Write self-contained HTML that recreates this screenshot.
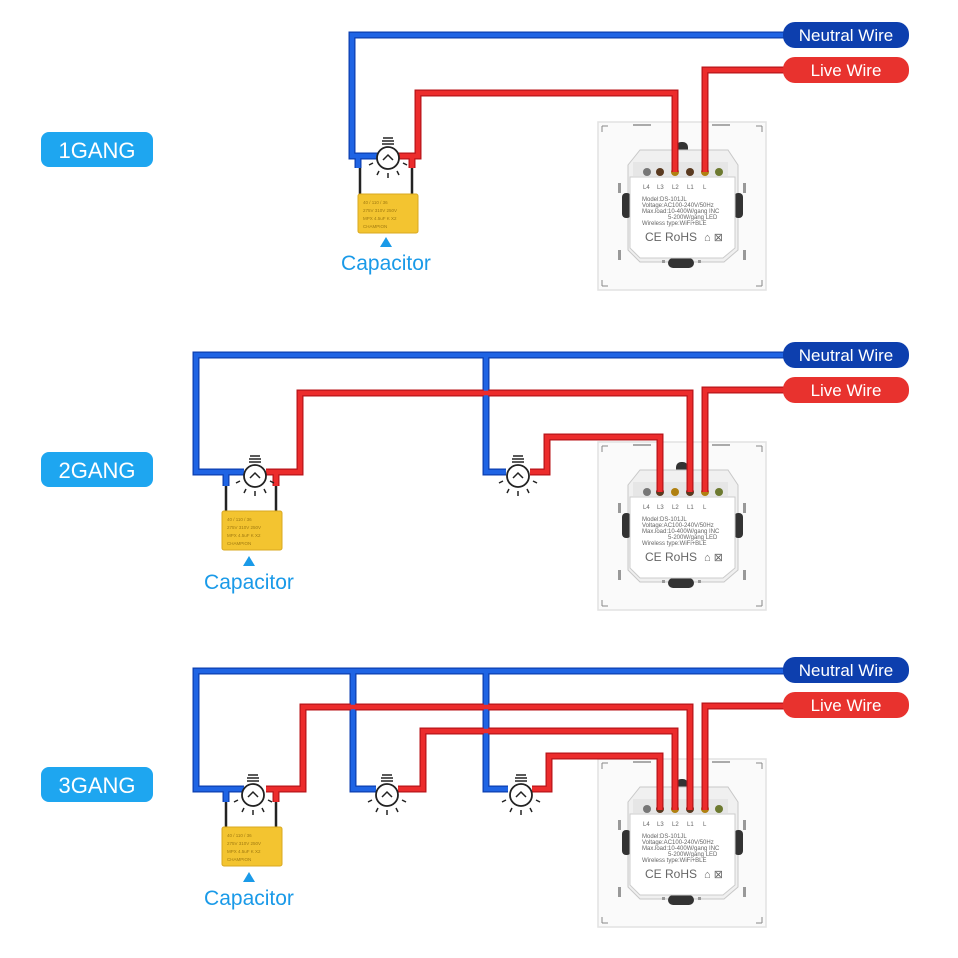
<!DOCTYPE html>
<html><head><meta charset="utf-8"><style>
html,body{margin:0;padding:0;background:#fff;}
svg{display:block;font-family:"Liberation Sans",sans-serif;}
</style></head><body>
<svg width="958" height="958" viewBox="0 0 958 958" xmlns="http://www.w3.org/2000/svg">
<defs>
<g id="bulb">
  <line x1="-5" y1="-20" x2="5" y2="-20" stroke="#222" stroke-width="1.5"/>
  <line x1="-6" y1="-17" x2="6" y2="-17" stroke="#222" stroke-width="1.5"/>
  <line x1="-6" y1="-14" x2="6" y2="-14" stroke="#222" stroke-width="1.5"/>
  <circle cx="0" cy="0" r="11" fill="#fff" stroke="#222" stroke-width="1.8"/>
  <path d="M-5,2 L0,-3 L5,2" fill="none" stroke="#222" stroke-width="1.5"/>
  <g stroke="#222" stroke-width="1.5">
    <line x1="-15" y1="5" x2="-19" y2="7"/><line x1="15" y1="5" x2="19" y2="7"/>
    <line x1="-9" y1="13" x2="-11" y2="17"/><line x1="9" y1="13" x2="11" y2="17"/>
    <line x1="0" y1="15" x2="0" y2="20"/>
  </g>
</g>
<g id="cap">
  <rect x="0" y="0" width="60" height="39" rx="2" fill="#f3c430" stroke="#d9a820"/>
  <g font-size="4.5" fill="#a07a10">
    <text x="5" y="10">40 / 110 / 36</text>
    <text x="5" y="18">275V 310V 250V</text>
    <text x="5" y="26">MPX 4.5uF K X2</text>
    <text x="5" y="34">CHAMPION</text>
  </g>
</g>
<g id="panel">
  <rect x="0" y="2" width="168" height="168" fill="#fafafa" stroke="#e2e2e2" stroke-width="1.5"/>
  <path d="M4,6 L4,12 M4,6 L10,6 M164,6 L164,12 M164,6 L158,6 M4,166 L4,160 M4,166 L10,166 M164,166 L164,160 M164,166 L158,166" stroke="#888" fill="none"/>
  <rect x="35" y="4" width="18" height="2" fill="#aaa"/>
  <rect x="114" y="4" width="18" height="2" fill="#aaa"/>
  <rect x="78" y="22" width="12" height="18" rx="5" fill="#333"/>
  <rect x="20" y="63" width="3" height="10" fill="#999"/>
  <rect x="145" y="63" width="3" height="10" fill="#999"/>
  <rect x="20" y="130" width="3" height="10" fill="#999"/>
  <rect x="145" y="130" width="3" height="10" fill="#999"/>
  <path d="M42,30 L130,30 L140,45 L140,130 L126,142 L42,142 L30,130 L30,45 Z" fill="#f0f0f0" stroke="#c8c8c8"/>
  <rect x="24" y="73" width="9" height="25" rx="4" fill="#333"/>
  <rect x="136" y="73" width="9" height="25" rx="4" fill="#333"/>
  <rect x="70" y="138" width="26" height="10" rx="5" fill="#333"/>
  <rect x="35" y="42" width="95" height="14" fill="#e6e6e6"/>
  <circle cx="49" cy="52" r="4" fill="#777"/>
  <circle cx="62" cy="52" r="4" fill="#5a3a20"/>
  <circle cx="77" cy="52" r="4" fill="#b08010"/>
  <circle cx="92" cy="52" r="4" fill="#5a3a20"/>
  <circle cx="107" cy="52" r="4" fill="#b08010"/>
  <circle cx="121" cy="52" r="4" fill="#6d7a30"/>
  <path d="M32,57 L137,57 L137,128 L125,138 L42,138 L32,128 Z" fill="#fff" stroke="#ccc"/>
  <g font-size="6" fill="#666">
    <text x="45" y="69">L4</text><text x="59" y="69">L3</text><text x="74" y="69">L2</text><text x="89" y="69">L1</text><text x="105" y="69">L</text>
    <text x="44" y="81">Model:DS-101JL</text>
    <text x="44" y="87">Voltage:AC100-240V/50Hz</text>
    <text x="44" y="93">Max.load:10-400W/gang  INC</text>
    <text x="70" y="99">5-200W/gang  LED</text>
    <text x="44" y="105">Wireless type:WiFi+BLE</text>
    <text x="47" y="121" font-size="12">CE RoHS</text>
    <text x="106" y="121" font-size="11">⌂ ⊠</text>
  </g>
  <g fill="#999"><rect x="64" y="140" width="3" height="3"/><rect x="100" y="140" width="3" height="3"/></g>
</g>
</defs>

<g fill="none" stroke-linejoin="miter">
<!-- ===== Section 1 ===== -->
<use href="#panel" x="598" y="120"/>
<g stroke-width="7">
 <polyline stroke="#0c3fb0" points="784,35 352,35 352,156 378,156"/>
 <polyline stroke="#0c3fb0" points="358,156 358,168"/>
 <polyline stroke="#b8141a" points="398,156 418,156 418,93 675,93 675,172"/>
 <polyline stroke="#b8141a" points="412,156 412,168"/>
 <polyline stroke="#b8141a" points="784,70 705,70 705,172"/>
</g>
<g stroke-width="4.5">
 <polyline stroke="#1f64e4" points="784,35 352,35 352,156 378,156"/>
 <polyline stroke="#1f64e4" points="358,156 358,168"/>
 <polyline stroke="#ec2c2c" points="398,156 418,156 418,93 675,93 675,172"/>
 <polyline stroke="#ec2c2c" points="412,156 412,168"/>
 <polyline stroke="#ec2c2c" points="784,70 705,70 705,172"/>
</g>
<g stroke="#222" stroke-width="2.5"><line x1="360" y1="168" x2="360" y2="195"/><line x1="412" y1="168" x2="412" y2="195"/></g>

<!-- ===== Section 2 ===== -->
<use href="#panel" x="598" y="440"/>
<g stroke-width="7">
 <polyline stroke="#0c3fb0" points="784,355 196,355 196,472 244,472"/>
 <polyline stroke="#0c3fb0" points="226,472 226,486"/>
 <polyline stroke="#0c3fb0" points="486,355 486,472 506,472"/>
 <polyline stroke="#b8141a" points="266,472 300,472 300,393 690,393 690,492"/>
 <polyline stroke="#b8141a" points="276,472 276,486"/>
 <polyline stroke="#b8141a" points="530,472 547,472 547,437 660,437 660,492"/>
 <polyline stroke="#b8141a" points="784,390 705,390 705,492"/>
</g>
<g stroke-width="4.5">
 <polyline stroke="#1f64e4" points="784,355 196,355 196,472 244,472"/>
 <polyline stroke="#1f64e4" points="226,472 226,486"/>
 <polyline stroke="#1f64e4" points="486,355 486,472 506,472"/>
 <polyline stroke="#ec2c2c" points="266,472 300,472 300,393 690,393 690,492"/>
 <polyline stroke="#ec2c2c" points="276,472 276,486"/>
 <polyline stroke="#ec2c2c" points="530,472 547,472 547,437 660,437 660,492"/>
 <polyline stroke="#ec2c2c" points="784,390 705,390 705,492"/>
</g>
<g stroke="#222" stroke-width="2.5"><line x1="226" y1="486" x2="226" y2="512"/><line x1="276" y1="486" x2="276" y2="512"/></g>

<!-- ===== Section 3 ===== -->
<use href="#panel" x="598" y="757"/>
<g stroke-width="7">
 <polyline stroke="#0c3fb0" points="784,671 196,671 196,789 244,789"/>
 <polyline stroke="#0c3fb0" points="226,789 226,802"/>
 <polyline stroke="#0c3fb0" points="353,671 353,789 376,789"/>
 <polyline stroke="#0c3fb0" points="486,671 486,789 508,789"/>
 <polyline stroke="#b8141a" points="266,789 303,789 303,707 690,707 690,810"/>
 <polyline stroke="#b8141a" points="276,789 276,802"/>
 <polyline stroke="#b8141a" points="398,789 423,789 423,731 675,731 675,810"/>
 <polyline stroke="#b8141a" points="532,789 549,789 549,756 660,756 660,810"/>
 <polyline stroke="#b8141a" points="784,706 705,706 705,810"/>
</g>
<g stroke-width="4.5">
 <polyline stroke="#1f64e4" points="784,671 196,671 196,789 244,789"/>
 <polyline stroke="#1f64e4" points="226,789 226,802"/>
 <polyline stroke="#1f64e4" points="353,671 353,789 376,789"/>
 <polyline stroke="#1f64e4" points="486,671 486,789 508,789"/>
 <polyline stroke="#ec2c2c" points="266,789 303,789 303,707 690,707 690,810"/>
 <polyline stroke="#ec2c2c" points="276,789 276,802"/>
 <polyline stroke="#ec2c2c" points="398,789 423,789 423,731 675,731 675,810"/>
 <polyline stroke="#ec2c2c" points="532,789 549,789 549,756 660,756 660,810"/>
 <polyline stroke="#ec2c2c" points="784,706 705,706 705,810"/>
</g>
<g stroke="#222" stroke-width="2.5"><line x1="226" y1="802" x2="226" y2="828"/><line x1="276" y1="802" x2="276" y2="828"/></g>
</g>

<!-- bulbs & capacitors -->
<use href="#bulb" x="388" y="158"/>
<use href="#cap" x="358" y="194"/>
<use href="#bulb" x="255" y="476"/>
<use href="#bulb" x="518" y="476"/>
<use href="#cap" x="222" y="511"/>
<use href="#bulb" x="253" y="795"/>
<use href="#bulb" x="387" y="795"/>
<use href="#bulb" x="521" y="795"/>
<use href="#cap" x="222" y="827"/>

<!-- capacitor labels -->
<g fill="#1a9ae8" font-size="21">
 <path d="M380,247 L386,237 L392,247 Z"/>
 <text x="386" y="270" text-anchor="middle">Capacitor</text>
 <path d="M243,566 L249,556 L255,566 Z"/>
 <text x="249" y="589" text-anchor="middle">Capacitor</text>
 <path d="M243,882 L249,872 L255,882 Z"/>
 <text x="249" y="905" text-anchor="middle">Capacitor</text>
</g>

<!-- gang pills -->
<g font-size="22" fill="#fff" text-anchor="middle">
 <rect x="41" y="132" width="112" height="35" rx="8" fill="#1ea6f0"/><text x="97" y="158">1GANG</text>
 <rect x="41" y="452" width="112" height="35" rx="8" fill="#1ea6f0"/><text x="97" y="478">2GANG</text>
 <rect x="41" y="767" width="112" height="35" rx="8" fill="#1ea6f0"/><text x="97" y="793">3GANG</text>
</g>

<!-- wire labels -->
<g font-size="17" fill="#fff" text-anchor="middle">
 <rect x="783" y="22" width="126" height="26" rx="12" fill="#0d3fae"/><text x="846" y="41">Neutral Wire</text>
 <rect x="783" y="57" width="126" height="26" rx="12" fill="#e8322e"/><text x="846" y="76">Live Wire</text>
 <rect x="783" y="342" width="126" height="26" rx="12" fill="#0d3fae"/><text x="846" y="361">Neutral Wire</text>
 <rect x="783" y="377" width="126" height="26" rx="12" fill="#e8322e"/><text x="846" y="396">Live Wire</text>
 <rect x="783" y="657" width="126" height="26" rx="12" fill="#0d3fae"/><text x="846" y="676">Neutral Wire</text>
 <rect x="783" y="692" width="126" height="26" rx="12" fill="#e8322e"/><text x="846" y="711">Live Wire</text>
</g>
</svg>
</body></html>
